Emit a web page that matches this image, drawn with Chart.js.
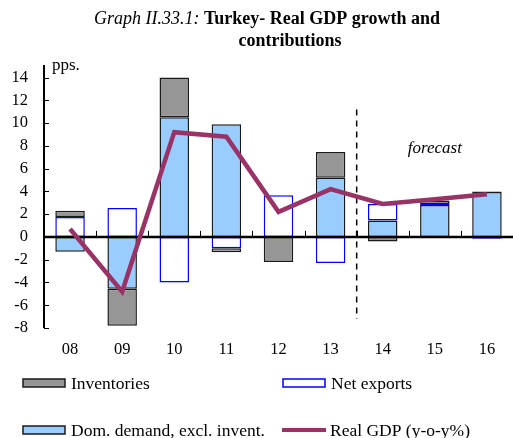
<!DOCTYPE html>
<html><head><meta charset="utf-8">
<script src="https://cdn.jsdelivr.net/npm/chart.js@4/dist/chart.umd.min.js"></script>
<style>html,body{margin:0;padding:0;background:#fff}</style>
</head><body>
<canvas id="c" width="513" height="438"></canvas>
<script>
// Contributions to real GDP growth, percentage points
const years = ['08', '09', '10', '11', '12', '13', '14', '15', '16'];
const domDemand = [-1.3, -4.55, 10.5, 9.9, 0, 5.2, 1.45, 2.8, 3.95];
const netExports = [1.75, 2.55, -4.0, -1.0, 3.65, -2.3, 1.45, 0.1, -0.15];
const inventories = [0.55, -3.25, 3.5, -0.35, -2.2, 2.25, -0.4, 0.3, 0.05];
const realGdp = [0.7, -4.8, 9.2, 8.8, 2.2, 4.2, 2.9, 3.3, 3.75];
const yTicks = [-8, -6, -4, -2, 0, 2, 4, 6, 8, 10, 12, 14];
const forecastFrom = 6; // index of the first forecast year

const SERIF = '"Liberation Serif", "Times New Roman", serif';
const COL = {
  inv: '#969696', dom: '#99ccff', net: '#ffffff', netEdge: '#0000ff',
  edge: '#1a1a1a', gdp: '#993366'
};

const decor = {
  id: 'decor',
  beforeDatasetDraw(chart, args) {
    if (args.index !== 0) return; // axes go over the bars, under the GDP line
    const { ctx, chartArea: a, scales: { x, y } } = chart;
    ctx.save();
    ctx.strokeStyle = '#000';
    // y axis and its inward ticks
    ctx.lineWidth = 2;
    ctx.beginPath(); ctx.moveTo(a.left, a.top); ctx.lineTo(a.left, a.bottom); ctx.stroke();
    ctx.lineWidth = 1;
    yTicks.forEach(v => {
      const py = Math.round(y.getPixelForValue(v)) + 0.5;
      ctx.beginPath(); ctx.moveTo(a.left, py); ctx.lineTo(a.left + 5, py); ctx.stroke();
    });
    // zero line
    const y0 = y.getPixelForValue(0);
    ctx.lineWidth = 2.5;
    ctx.beginPath(); ctx.moveTo(a.left, y0); ctx.lineTo(a.right, y0); ctx.stroke();
    // category separators
    ctx.lineWidth = 1;
    for (let i = 1; i < years.length; i++) {
      const px = Math.round((x.getPixelForValue(i - 1) + x.getPixelForValue(i)) / 2) + 0.5;
      ctx.beginPath(); ctx.moveTo(px, y0 - 6); ctx.lineTo(px, y0); ctx.stroke();
    }
    // forecast divider
    const dx = (x.getPixelForValue(forecastFrom - 1) + x.getPixelForValue(forecastFrom)) / 2;
    ctx.lineWidth = 1.5;
    ctx.setLineDash([6, 5]);
    ctx.beginPath(); ctx.moveTo(dx, y.getPixelForValue(11.2)); ctx.lineTo(dx, y.getPixelForValue(-7.2)); ctx.stroke();
    ctx.restore();
  },
  afterDraw(chart) {
    const { ctx, scales: { x, y }, chartArea: a } = chart;
    ctx.save();
    ctx.fillStyle = '#000';
    ctx.textBaseline = 'middle';
    // title
    const t1a = 'Graph II.33.1: ', t1b = 'Turkey- Real GDP growth and';
    ctx.font = 'italic 18px ' + SERIF;
    const wa = ctx.measureText(t1a).width;
    ctx.font = 'bold 18px ' + SERIF;
    const wb = ctx.measureText(t1b).width;
    let sx = 267 - (wa + wb) / 2;
    ctx.textAlign = 'left';
    ctx.font = 'italic 18px ' + SERIF; ctx.fillText(t1a, sx, 19);
    ctx.font = 'bold 18px ' + SERIF; ctx.fillText(t1b, sx + wa, 19);
    ctx.textAlign = 'center';
    ctx.fillText('contributions', 290, 41);
    // unit and forecast notes
    ctx.textAlign = 'left';
    ctx.font = '17px ' + SERIF;
    ctx.fillText('pps.', a.left + 8, a.top + 1);
    ctx.textAlign = 'center';
    ctx.font = 'italic 17px ' + SERIF;
    ctx.fillText('forecast', x.getPixelForValue(7), y.getPixelForValue(7.8));
    // legend
    const items = [
      { kind: 'box', fill: COL.inv, edge: COL.edge, text: 'Inventories', x: 23, y: 383 },
      { kind: 'box', fill: COL.net, edge: COL.netEdge, text: 'Net exports', x: 283, y: 383 },
      { kind: 'box', fill: COL.dom, edge: COL.edge, text: 'Dom. demand, excl. invent.', x: 23, y: 430 },
      { kind: 'line', edge: COL.gdp, text: 'Real GDP (y-o-y%)', x: 282, y: 430 }
    ];
    ctx.font = '17.5px ' + SERIF;
    ctx.textAlign = 'left';
    items.forEach(it => {
      if (it.kind === 'box') {
        ctx.fillStyle = it.fill;
        ctx.fillRect(it.x, it.y - 4, 42, 8);
        ctx.strokeStyle = it.edge; ctx.lineWidth = 1.5;
        ctx.strokeRect(it.x, it.y - 4, 42, 8);
      } else {
        ctx.strokeStyle = it.edge; ctx.lineWidth = 4;
        ctx.beginPath(); ctx.moveTo(it.x, it.y); ctx.lineTo(it.x + 44, it.y); ctx.stroke();
      }
      ctx.fillStyle = '#000';
      ctx.fillText(it.text, it.x + 48, it.y + 1);
    });
    ctx.restore();
  }
};

const barCommon = { borderWidth: 1.5, borderSkipped: false, stack: 'c', barPercentage: 0.566, categoryPercentage: 1 };

new Chart(document.getElementById('c'), {
  data: {
    labels: years,
    datasets: [
      { type: 'line', label: 'Real GDP (y-o-y%)', data: realGdp, stack: 'gdp', borderColor: COL.gdp,
        borderWidth: 4.5, pointRadius: 0, tension: 0, fill: false },
      { type: 'bar', label: 'Dom. demand, excl. invent.', data: domDemand, backgroundColor: COL.dom, borderColor: COL.edge, ...barCommon },
      { type: 'bar', label: 'Net exports', data: netExports, backgroundColor: COL.net, borderColor: COL.netEdge, ...barCommon },
      { type: 'bar', label: 'Inventories', data: inventories, backgroundColor: COL.inv, borderColor: COL.edge, ...barCommon }
    ]
  },
  options: {
    responsive: false,
    animation: false,
    devicePixelRatio: 1,
    layout: { padding: { top: 65, right: 0, bottom: 70, left: 0 } },
    plugins: { legend: { display: false }, title: { display: false }, tooltip: { enabled: false } },
    scales: {
      x: {
        stacked: true,
        grid: { display: false, drawTicks: false },
        border: { display: false },
        ticks: { color: '#000', font: { family: SERIF, size: 16.5 }, padding: 12, maxRotation: 0 },
        afterFit(s) { s.height = 40; }
      },
      y: {
        stacked: true,
        min: -8, max: 15.1,
        grid: { display: false, drawTicks: false },
        border: { display: false },
        afterBuildTicks(s) { s.ticks = yTicks.map(v => ({ value: v })); },
        ticks: { color: '#000', font: { family: SERIF, size: 16.5 }, padding: 16 },
        afterFit(s) { s.width = 44; }
      }
    }
  },
  plugins: [decor]
});
</script>
</body></html>
